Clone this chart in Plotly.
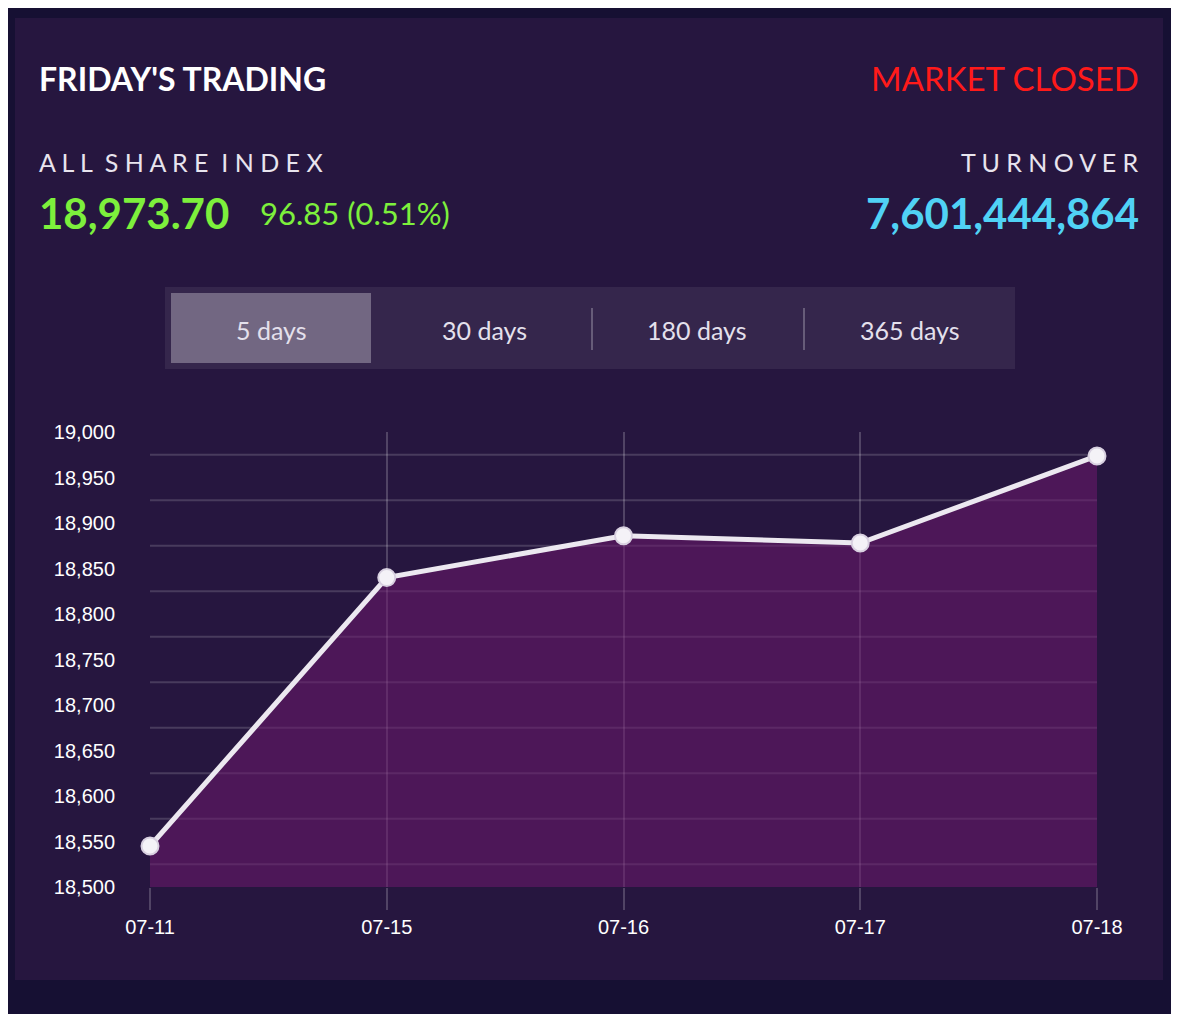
import plotly.graph_objects as go

dates = ["07-11", "07-15", "07-16", "07-17", "07-18"]
index_values = [18545, 18840, 18886, 18878, 18973.70]
y_ticks = [18500, 18550, 18600, 18650, 18700, 18750, 18800, 18850, 18900, 18950, 19000]
grid_levels = [18525, 18575, 18625, 18675, 18725, 18775, 18825, 18875, 18925, 18975]
tabs = ["5 days", "30 days", "180 days", "365 days"]

W, H = 1179, 1014
OFF = 8  # page body margin
L, R, T, B = 150 - OFF, 1097 - OFF, 432 - OFF, 887 - OFF


def px(x):
    return (x - OFF - L) / (R - L)


def py(y):
    return (B - (y - OFF)) / (B - T)


xs = list(range(len(dates)))

fig = go.Figure()
fig.add_trace(go.Scatter(
    x=xs, y=index_values, mode="lines+markers", fill="tozeroy",
    fillcolor="rgba(110,25,110,0.55)", cliponaxis=False,
    line=dict(color="#ece8f0", width=5),
    marker=dict(size=17, color="#f4f2f7", line=dict(color="#d8d0e0", width=2)),
    hoverinfo="skip",
))

shapes = []
shapes.append(dict(type="rect", xref="paper", yref="paper", layer="below",
                   x0=px(15), x1=px(1163), y0=py(980), y1=py(18),
                   fillcolor="#26163f", line=dict(width=0)))
for g in grid_levels:
    shapes.append(dict(type="line", xref="paper", yref="y", layer="below",
                       x0=0, x1=1, y0=g, y1=g,
                       line=dict(color="rgba(255,255,255,0.16)", width=2)))
shapes.append(dict(type="rect", xref="paper", yref="paper",
                   x0=px(165), x1=px(1015), y0=py(369), y1=py(287),
                   fillcolor="rgba(255,255,255,0.07)", line=dict(width=0)))
shapes.append(dict(type="rect", xref="paper", yref="paper",
                   x0=px(171), x1=px(371), y0=py(363), y1=py(293),
                   fillcolor="rgba(255,255,255,0.3)", line=dict(width=0)))
for sx in (592, 804):
    shapes.append(dict(type="line", xref="paper", yref="paper",
                       x0=px(sx), x1=px(sx), y0=py(350), y1=py(308),
                       line=dict(color="rgba(255,255,255,0.25)", width=2)))

ann = []


def text(x, y, s, size, color, anchor="left", bold=False):
    ann.append(dict(xref="paper", yref="paper", x=px(x), y=py(y), text=f"<b>{s}</b>" if bold else s,
                    showarrow=False, xanchor=anchor, yanchor="middle",
                    font=dict(size=size, color=color, family="Lato")))


text(37, 78, "FRIDAY'S TRADING", 32, "white", bold=True)
text(1141, 78, "MARKET CLOSED", 33, "#ff1a1a", anchor="right")
text(37, 162, "A L L  S H A R E  I N D E X", 25, "#e8e4ee")
text(1141, 162, "T U R N O V E R", 25, "#e8e4ee", anchor="right")
text(37, 213, "18,973.70", 42, "#7df03c", bold=True)
text(258, 213, "96.85 (0.51%)", 31, "#7df03c")
text(1141, 213, "7,601,444,864", 42, "#50d2f5", anchor="right", bold=True)
for cx, t in zip((271, 484, 697, 910), tabs):
    text(cx, 330, t, 25, "#e4e0ec", anchor="center")

fig.update_layout(
    width=W, height=H, margin=dict(l=L, r=W - R, t=T, b=H - B),
    paper_bgcolor="#161033", plot_bgcolor="rgba(0,0,0,0)",
    showlegend=False, shapes=shapes, annotations=ann,
    font=dict(family="Liberation Sans", color="white", size=20),
)
fig.update_xaxes(range=[0, 4], tickvals=xs, ticktext=dates, showgrid=True,
                 gridcolor="rgba(255,255,255,0.2)", gridwidth=2, zeroline=False,
                 ticks="outside", ticklen=22, tickcolor="rgba(255,255,255,0.2)",
                 tickwidth=2, showline=False, fixedrange=True)
fig.update_yaxes(range=[18500, 19000], tickvals=y_ticks,
                 ticktext=[f"{v:,}" for v in y_ticks], showgrid=False,
                 zeroline=False, ticks="", ticklabelstandoff=34)

fig.write_html("out.html")
